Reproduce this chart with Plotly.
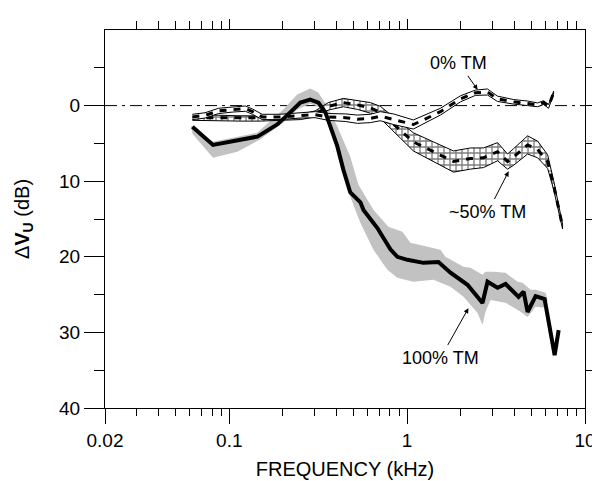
import numpy as np
import plotly.graph_objects as go

# ---------------- data ----------------
# 100% TM : thick black curve (frequency kHz, dB)
freq_100 = [0.062, 0.081, 0.144, 0.186, 0.220, 0.251, 0.285, 0.317, 0.347, 0.370, 0.405, 0.438,
            0.479, 0.546, 0.568, 0.680, 0.805, 0.881, 1.003, 1.234, 1.50, 1.752, 2.184, 2.653,
            2.831, 3.223, 3.576, 4.232, 4.516, 4.755, 5.276, 5.928, 6.75, 7.11]
db_100 = [2.8, 5.2, 4.1, 2.5, 0.9, -0.4, -0.8, -0.4, 0.9, 2.8, 5.4, 8.5,
          11.5, 12.8, 13.8, 16.2, 19.0, 20.0, 20.4, 20.8, 20.7, 22.1, 23.7, 26.1,
          23.3, 24.1, 23.6, 25.3, 24.6, 27.3, 25.2, 25.6, 33.0, 29.7]

# 100% TM : grey spread band outline (upper edge low->high freq, lower edge high->low freq)
band_up_f = [0.061, 0.081, 0.1435, 0.201, 0.241, 0.285, 0.3165, 0.3556, 0.405, 0.479, 0.532,
             0.646, 0.784, 0.940, 1.043, 1.352, 1.539, 1.642, 2.074, 2.271, 2.653, 2.758,
             3.061, 3.576, 4.177, 4.457, 4.943, 5.276, 6.006, 6.16]
band_up_db = [2.65, 4.77, 3.58, 0.53, -1.46, -2.25, -1.72, 0.13, 2.78, 6.75, 10.46,
              13.77, 16.03, 16.69, 18.15, 18.81, 19.07, 20.0, 21.32, 21.46, 22.38, 21.99,
              21.99, 22.12, 23.31, 23.44, 24.37, 24.37, 24.77, 25.7]
band_lo_f = [6.006, 5.276, 4.755, 4.343, 3.576, 2.944, 2.758, 2.653, 2.487, 2.074, 1.752,
             1.405, 1.084, 0.881, 0.774, 0.646, 0.5455, 0.479, 0.461, 0.410, 0.370, 0.325,
             0.285, 0.241, 0.201, 0.149, 0.111, 0.081, 0.062]
band_lo_db = [26.75, 26.62, 27.95, 27.28, 26.09, 25.70, 27.28, 29.0, 27.42, 25.3, 23.97,
              23.05, 23.31, 22.78, 21.72, 19.07, 15.5, 12.05, 10.73, 6.23, 1.85, 0.26,
              -0.26, 0.53, 2.25, 4.5, 6.09, 6.89, 3.71]

# 0% TM : ribbon (centre and half width, dB)
freq_0 = [0.062, 0.073, 0.087, 0.105, 0.123, 0.135, 0.153, 0.193, 0.25, 0.304, 0.36, 0.449,
          0.525, 0.621, 0.707, 0.837, 1.084, 1.234, 1.539, 1.995, 2.42, 2.83, 3.22, 3.97,
          4.76, 5.41, 5.85, 6.24, 6.66]
db_0 = [1.5, 1.3, 0.7, 0.5, 0.4, 0.8, 1.5, 1.5, 1.3, 1.2, 1.5, 1.6,
        1.8, 1.7, 1.4, 1.8, 2.5, 1.9, 0.8, -0.9, -1.7, -1.8, -0.9, -0.5,
        -0.3, -0.1, -0.4, 0.1, -1.7]
hw_0 = [0.35, 0.35, 0.35, 0.35, 0.35, 0.35, 0.35, 0.35, 0.35, 0.4, 0.45, 0.5,
        0.55, 0.55, 0.6, 0.7, 0.6, 0.55, 0.45, 0.4, 0.35, 0.4, 0.35, 0.3,
        0.3, 0.25, 0.25, 0.25, 0.2]

# ~50% TM : ribbon (centre and half width, dB)
freq_50 = [0.062, 0.081, 0.115, 0.149, 0.193, 0.251, 0.304, 0.36, 0.438, 0.525, 0.621, 0.707,
           0.805, 0.916, 1.084, 1.405, 1.822, 2.271, 2.688, 3.223, 3.668, 3.966, 4.755, 5.412,
           6.163, 6.66, 7.02, 7.48]
db_50 = [1.6, 1.6, 1.7, 1.7, 1.6, 1.5, 1.1, 0.1, -0.4, -0.1, 0.3, 0.9,
         2.1, 3.3, 4.8, 6.1, 7.4, 7.0, 6.9, 6.1, 7.4, 6.8, 5.2, 5.8,
         7.4, 10.5, 12.9, 16.0]
hw_50 = [0.35, 0.35, 0.35, 0.35, 0.35, 0.35, 0.4, 0.5, 0.55, 0.6, 0.7, 0.8,
         0.9, 1.0, 1.2, 1.3, 1.4, 1.4, 1.3, 1.2, 1.0, 1.1, 1.2, 1.1,
         0.9, 0.6, 0.4, 0.3]

# annotation labels: (label, arrow-tip frequency, arrow-tip dB)
labels = ["0% TM", "~50% TM", "100% TM"]
label_tip_f = [2.49, 3.72, 2.21]
label_tip_db = [-2.1, 8.7, 26.8]

x_major = [0.02, 0.1, 1, 10]
x_major_text = ["0.02", "0.1", "1", "10"]
x_minor = [0.03, 0.04, 0.05, 0.06, 0.07, 0.08, 0.09,
           0.2, 0.3, 0.4, 0.5, 0.6, 0.7, 0.8, 0.9,
           2, 3, 4, 5, 6, 7, 8, 9]
y_major = [0, 10, 20, 30, 40]
y_minor = [-5, 5, 15, 25, 35]
y_all = [-5, 0, 5, 10, 15, 20, 25, 30, 35]

FONT = "Liberation Sans, Arial, Helvetica, sans-serif"

fig = go.Figure()

# grey band for 100% TM
fig.add_trace(go.Scatter(x=band_up_f + band_lo_f, y=band_up_db + band_lo_db,
                         fill="toself", fillcolor="#c2c2c2", mode="lines",
                         line=dict(width=0, color="#c2c2c2"), hoverinfo="skip", showlegend=False))


def ribbon(f, c, hw, pattern):
    f = list(f)
    c = np.array(c)
    hw = np.array(hw)
    up = list(c - hw)
    lo = list(c + hw)
    kw = dict(fillcolor="white")
    if pattern:
        kw = dict(fillcolor="white",
                  fillpattern=dict(shape="+", fgcolor="black", bgcolor="white", size=6, solidity=0.4))
    fig.add_trace(go.Scatter(x=f + f[::-1], y=up + lo[::-1], fill="toself", mode="lines",
                             line=dict(color="black", width=1), hoverinfo="skip",
                             showlegend=False, **kw))
    fig.add_trace(go.Scatter(x=f, y=list(c), mode="lines",
                             line=dict(color="black", width=3, dash="7px,7px"),
                             hoverinfo="skip", showlegend=False))


ribbon(freq_50, db_50, hw_50, True)
ribbon(freq_0, db_0, hw_0, False)

# 100% TM thick line
fig.add_trace(go.Scatter(x=freq_100, y=db_100, mode="lines",
                         line=dict(color="black", width=4), hoverinfo="skip", showlegend=False))

# invisible trace so the mirrored (top/right) axes are drawn
fig.add_trace(go.Scatter(x=[0.05], y=[50], xaxis="x2", yaxis="y2", mode="markers",
                         marker=dict(opacity=0), hoverinfo="skip", showlegend=False))

# zero reference line (dash-dot)
fig.add_shape(type="line", xref="paper", x0=0, x1=1, yref="y", y0=0, y1=0,
              line=dict(color="black", width=1, dash="12px,5px,3px,5px"), layer="below")

ann_font = dict(family=FONT, size=18, color="black")
offsets = [(-19, -27), (-21, 41), (-28, 50)]
for txt, tf, tdb, (ox, oy) in zip(labels, label_tip_f, label_tip_db, offsets):
    fig.add_annotation(x=np.log10(tf), y=tdb, ax=ox, ay=oy, text=txt, showarrow=True,
                       arrowhead=2, arrowsize=1, arrowwidth=1, arrowcolor="black",
                       font=ann_font, standoff=0, startstandoff=2)

xr = [np.log10(0.02), 1]
yr = [40, -10]
tick_font = dict(family=FONT, size=19, color="black")

fig.update_layout(
    width=600, height=481,
    margin=dict(l=97, r=23, t=22, b=81, autoexpand=False),
    paper_bgcolor="white", plot_bgcolor="white",
    showlegend=False,
    xaxis=dict(type="log", range=xr, tickvals=x_major, ticktext=x_major_text,
               ticks="outside", ticklen=15, tickwidth=1, tickcolor="black",
               minor=dict(tickvals=x_minor, ticks="outside", ticklen=7, tickwidth=1,
                          tickcolor="black", showgrid=False),
               showline=True, linecolor="black", linewidth=1, showgrid=False, zeroline=False,
               tickfont=tick_font, automargin=False,
               title=dict(text="FREQUENCY (kHz)", font=dict(family=FONT, size=20, color="black"),
                          standoff=12)),
    xaxis2=dict(type="log", range=xr, overlaying="x", side="top", anchor="y",
                tickvals=[0.1, 1], ticks="outside", ticklen=10, tickwidth=1, tickcolor="black",
                minor=dict(tickvals=x_minor, ticks="outside", ticklen=8, tickwidth=1,
                           tickcolor="black", showgrid=False),
                showticklabels=False, showline=True, linecolor="black", linewidth=1,
                showgrid=False, zeroline=False, automargin=False),
    yaxis=dict(range=yr, tickvals=y_major, ticks="outside", ticklen=20, tickwidth=1,
               tickcolor="black",
               minor=dict(tickvals=y_minor, ticks="outside", ticklen=10, tickwidth=1,
                          tickcolor="black", showgrid=False),
               showline=True, linecolor="black", linewidth=1, showgrid=False, zeroline=False,
               tickfont=tick_font, automargin=False,
               title=dict(text="Δ<b>V</b><sub><b>U</b></sub> (dB)",
                          font=dict(family=FONT, size=20, color="black"), standoff=24)),
    yaxis2=dict(range=yr, overlaying="y", side="right", anchor="x",
                tickvals=y_all, ticks="outside", ticklen=7, tickwidth=1, tickcolor="black",
                showticklabels=False, showline=True, linecolor="black", linewidth=1,
                showgrid=False, zeroline=False, automargin=False),
)

fig.write_html("out.html")
